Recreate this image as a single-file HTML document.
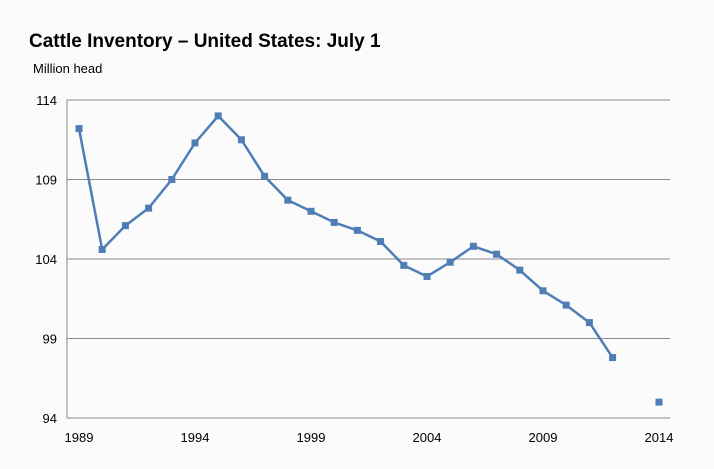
<!DOCTYPE html>
<html><head><meta charset="utf-8"><style>
body{margin:0;background:#fbfbfb;font-family:"Liberation Sans",Arial,sans-serif;}
svg{display:block}
</style></head><body>
<svg width="714" height="469">
<rect width="714" height="469" fill="#fbfbfb"/>
<text x="29" y="47" font-size="19" font-weight="bold" fill="#000">Cattle Inventory – United States: July 1</text>
<text x="33" y="73" font-size="13" fill="#000">Million head</text>
<g id="grid"></g><g id="axes"></g><g id="series"></g>
</svg>
<script>
const years=[1989,1990,1991,1992,1993,1994,1995,1996,1997,1998,1999,2000,2001,2002,2003,2004,2005,2006,2007,2008,2009,2010,2011,2012,2013,2014];
const values=[112.2,104.6,106.1,107.2,109.0,111.3,113.0,111.5,109.2,107.7,107.0,106.3,105.8,105.1,103.6,102.9,103.8,104.8,104.3,103.3,102.0,101.1,100.0,97.8,null,95.0];
const yTicks=[94,99,104,109,114];
const xTicks=[1989,1994,1999,2004,2009,2014];
const NS="http://www.w3.org/2000/svg";
const X=y=>79+(y-1989)*23.2, Y=v=>418-(v-94)*15.9;
function mk(t,a,p){const e=document.createElementNS(NS,t);for(const k in a)e.setAttribute(k,a[k]);p.appendChild(e);return e;}
const g=document.getElementById('grid'),ax=document.getElementById('axes'),s=document.getElementById('series');
yTicks.forEach(v=>{
 const l=mk('line',{x1:67,x2:670,y1:Y(v),y2:Y(v),stroke:'#8a8a8a','stroke-width':1},g);
 
 
 const t=mk('text',{x:57,y:Y(v)+5,'font-size':13,'text-anchor':'end',fill:'#000'},ax);t.textContent=v;
 
 
});
const yl=mk('line',{x1:67,x2:67,y1:100,y2:418,stroke:'#8a8a8a'},ax);


xTicks.forEach(v=>{
 const t=mk('text',{x:X(v),y:442,'font-size':13,'text-anchor':'middle',fill:'#000'},ax);t.textContent=v;
 
 
});
let segs=[],cur=[];
years.forEach((yr,i)=>{if(values[i]==null){if(cur.length)segs.push(cur);cur=[];}else cur.push([X(yr),Y(values[i])]);});
if(cur.length)segs.push(cur);
segs.forEach(sg=>{if(sg.length>1){const p=mk('polyline',{points:sg.map(q=>q.join(',')).join(' '),fill:'none',stroke:'#4f7db5','stroke-width':2.5,'stroke-linejoin':'round'},s);
 
 }});
years.forEach((yr,i)=>{if(values[i]==null)return;
 const r=mk('rect',{x:X(yr)-3.5,y:Y(values[i])-3.5,width:7,height:7,fill:'#4f7db5'},s);
 
 
});
</script>
</body></html>
